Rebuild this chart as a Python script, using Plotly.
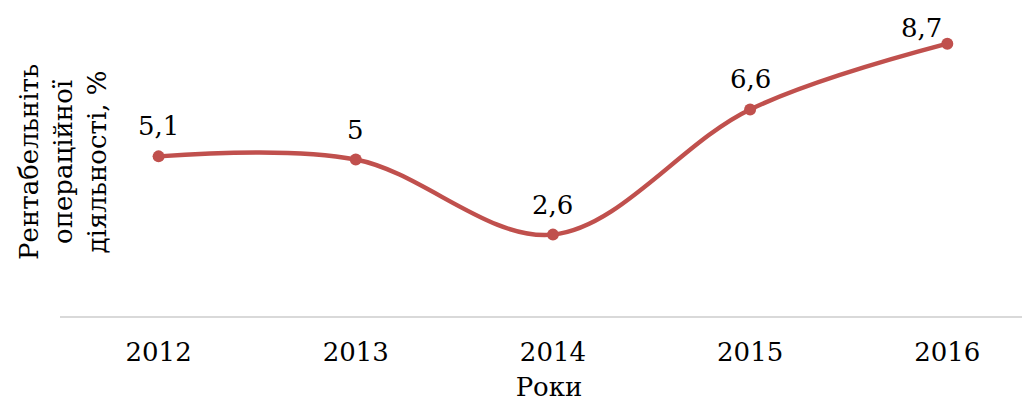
import plotly.graph_objects as go

years = ["2012", "2013", "2014", "2015", "2016"]
values = [5.1, 5.0, 2.6, 6.6, 8.7]
labels = [("%g" % v).replace(".", ",") for v in values]

color = "#C0504D"
font = "DejaVu Serif"

fig = go.Figure(go.Scatter(
    x=years, y=values, mode="lines+markers",
    line=dict(color=color, width=4.5, shape="spline", smoothing=1.0),
    marker=dict(color=color, size=12),
    cliponaxis=False, hoverinfo="skip",
))

# data labels (last one nudged left/down as in the reference)
xshifts = [0, 0, 0, 0, -26]
yshifts = [13, 13, 13, 13, -1]
for i, (v, lab, dx, dy) in enumerate(zip(values, labels, xshifts, yshifts)):
    fig.add_annotation(x=i, y=v, xref="x", yref="y", text=lab, showarrow=False,
                       xanchor="center", yanchor="bottom",
                       xshift=dx, yshift=dy,
                       font=dict(family=font, size=26, color="black"))

fig.update_layout(
    width=1030, height=402,
    margin=dict(l=52, r=0, t=0, b=94),
    plot_bgcolor="white", paper_bgcolor="white",
    showlegend=False,
    font=dict(family=font, size=26, color="black"),
    xaxis=dict(type="category", range=[-0.5, 4.46], showgrid=False,
               showline=True, linecolor="#D9D9D9", linewidth=2,
               ticks="", tickfont=dict(family=font, size=26),
               ticklabelstandoff=12,
               title=dict(text="Роки", font=dict(family=font, size=26), standoff=12)),
    yaxis=dict(range=[0, 9.84], showgrid=False, showticklabels=False,
               zeroline=False, showline=False, ticks=""),
)

fig.add_annotation(
    text="Рентабельніть<br>операційної<br>діяльності, %",
    xref="paper", yref="paper", x=0.003, y=0.5,
    xanchor="center", yanchor="middle", textangle=-90, showarrow=False,
    font=dict(family=font, size=26, color="black"), align="center",
)

fig.write_html("out.html")
